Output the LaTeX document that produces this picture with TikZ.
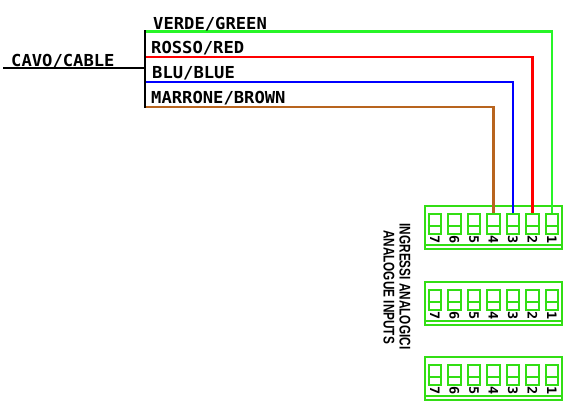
\documentclass[tikz,border=0pt]{standalone}
\usepackage{fontspec}
\usepackage{tikz}
\newfontfamily\cadmono[FakeStretch=1.04]{DejaVu Sans Mono}
\newfontfamily\cadsans{Liberation Sans}
\definecolor{termgreen}{RGB}{50,222,20}
\definecolor{wiregreen}{RGB}{40,245,40}
\definecolor{wirebrown}{RGB}{184,100,30}
\tikzset{
  wire/.style={line width=2.8pt},
  label/.style={anchor=base west, inner sep=0pt, font=\cadmono\bfseries\fontsize{16.5}{16.5}\selectfont},
  term/.style={draw=termgreen, line width=2pt, inner sep=0pt},
  digit/.style={rotate=-90, inner sep=0pt, font=\cadmono\bfseries\fontsize{13}{13}\selectfont},
  vlabel/.style={rotate=-90, inner sep=0pt, transform shape, font=\cadsans\bfseries\fontsize{15.5}{15.5}\selectfont}
}
\begin{document}
\begin{tikzpicture}[x=1pt,y=-1pt]
  \useasboundingbox (0,0) rectangle (573,405);
  % terminal blocks
  \foreach \top/\name in {206/A,282/B,357/C} {
    \node[term, minimum width=136.5pt, minimum height=43pt] (block\name) at (493.3,\top+21.5) {};
    \draw[termgreen, line width=2pt] (block\name.west |- 0,\top+39) -- (block\name.east |- 0,\top+39);
    \foreach \n in {1,...,7} {
      \node[term, minimum width=12.4pt, minimum height=20pt] (cell\name\n) at (551.9-19.5*\n+19.5,\top+17.5) {};
      \draw[termgreen, line width=2pt] (cell\name\n.west |- 0,\top+19.7) -- (cell\name\n.east |- 0,\top+19.7);
      \node[digit] (digit\name\n) at (551.9-19.5*\n+19.5,\top+33.2) {\n};
    }
  }
  % cable
  \coordinate (cavo) at (3,68);
  \coordinate (nodo) at (145,68);
  \coordinate (tapG) at (145,31.5);
  \coordinate (tapR) at (145,57);
  \coordinate (tapB) at (145,82);
  \coordinate (tapM) at (145,107);
  \draw[wire, wiregreen] (tapG) -| (cellA1.north);
  \draw[wire, red] (tapR) -| (cellA2.north);
  \draw[wire, blue] (tapB) -| (cellA3.north);
  \draw[wire, wirebrown] (tapM) -| (cellA4.north);
  \draw[wire, black] (cavo) -- (nodo);
  \draw[wire, black, line cap=rect] (tapG) -- (tapM);
  % labels
  \node[label] (lcavo) at (11,66) {CAVO/CABLE};
  \node[label] (lverde) at (153,29) {VERDE/GREEN};
  \node[label] (lrosso) at (151,53.5) {ROSSO/RED};
  \node[label] (lblu) at (152,78.5) {BLU/BLUE};
  \node[label] (lmarrone) at (151,103.5) {MARRONE/BROWN};
  \node[vlabel, xscale=.76] (lingressi) at (405,286.5) {INGRESSI ANALOGICI};
  \node[vlabel, xscale=.76] (lanalogue) at (389,287) {ANALOGUE INPUTS};
\end{tikzpicture}
\end{document}
